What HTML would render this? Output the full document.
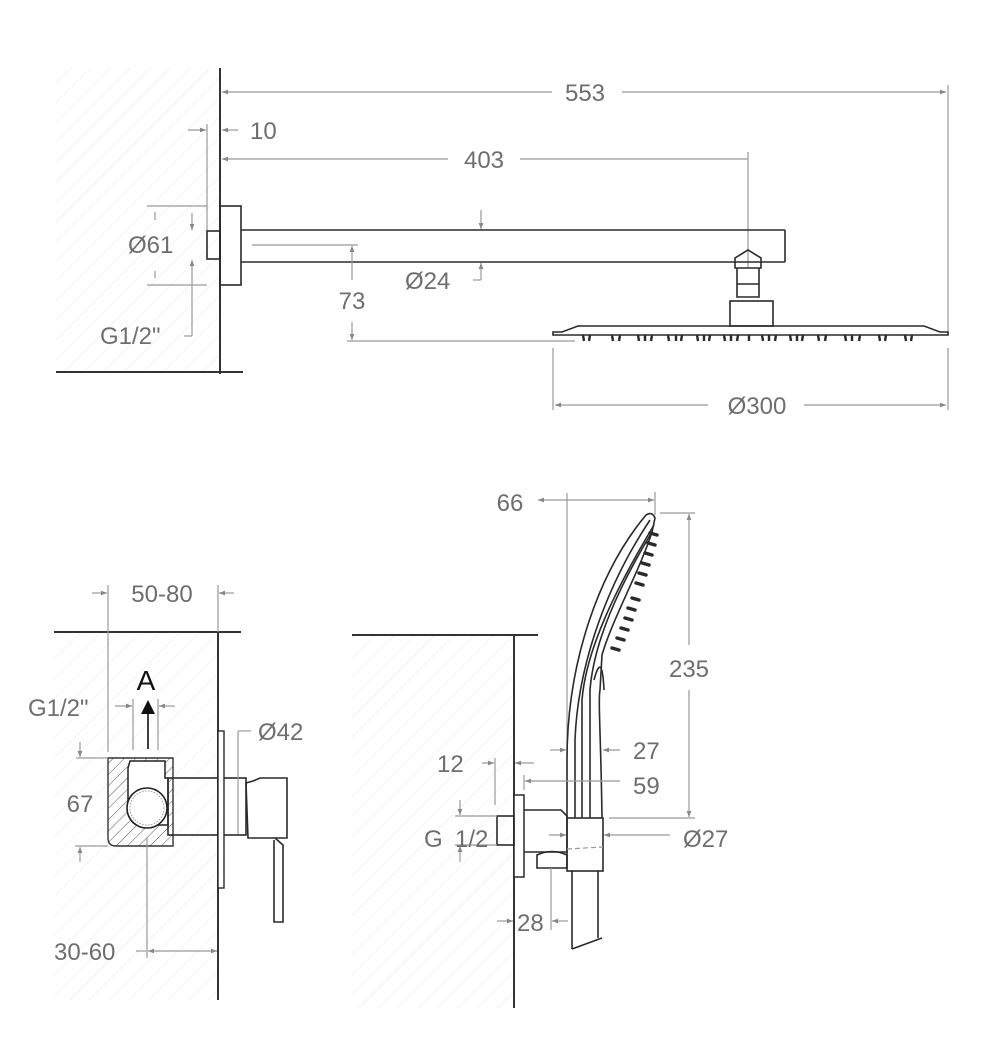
<!DOCTYPE html>
<html><head><meta charset="utf-8"><style>
html,body{margin:0;padding:0;background:#fff;}
svg{display:block;}
text{font-family:"Liberation Sans",sans-serif;font-size:24px;fill:#6e6e6e;}
.d{stroke:#999;stroke-width:1.2;fill:none;}
.o{stroke:#2a2a2a;stroke-width:1.6;fill:none;}
.w{stroke:#333;stroke-width:2;fill:none;}
.hf{fill:url(#hatch);}
</style></head><body>
<svg width="1000" height="1048" viewBox="0 0 1000 1048" xmlns="http://www.w3.org/2000/svg">
<defs>
<pattern id="hatch" width="14" height="14" patternUnits="userSpaceOnUse" patternTransform="rotate(45)">
<line x1="0" y1="0" x2="0" y2="14" stroke="#ececec" stroke-width="1.2"/></pattern>
<pattern id="hatch2" width="8" height="8" patternUnits="userSpaceOnUse" patternTransform="rotate(45)">
<line x1="0" y1="0" x2="0" y2="8" stroke="#555" stroke-width="1"/></pattern>
<marker id="a" viewBox="0 0 10 10" refX="10" refY="5" markerWidth="7" markerHeight="5" orient="auto-start-reverse"><path d="M0,1 L10,5 L0,9 z" fill="#888"/></marker>
</defs>

<!-- ========== TOP ========== -->
<rect x="56" y="68" width="164" height="304" class="hf"/>
<line class="w" x1="220" y1="68" x2="220" y2="374"/>
<line class="w" x1="56" y1="372" x2="243" y2="372"/>

<line class="d" x1="222" y1="92" x2="552" y2="92" marker-start="url(#a)"/>
<line class="d" x1="622" y1="92" x2="946" y2="92" marker-end="url(#a)"/>
<line class="d" x1="948" y1="85" x2="948" y2="333"/>
<text x="585" y="101" text-anchor="middle">553</text>
<line class="d" x1="188" y1="130" x2="206" y2="130" marker-end="url(#a)"/>
<line class="d" x1="238" y1="130" x2="222" y2="130" marker-end="url(#a)"/>
<line class="d" x1="207" y1="124" x2="207" y2="230"/>
<text x="250" y="139">10</text>
<line class="d" x1="222" y1="159" x2="448" y2="159" marker-start="url(#a)"/>
<line class="d" x1="520" y1="159" x2="748" y2="159"/>
<line class="d" x1="748" y1="152" x2="748" y2="268"/>
<text x="484" y="168" text-anchor="middle">403</text>
<rect class="o" x="220" y="206" width="21" height="79"/>
<rect class="o" x="207" y="231" width="13" height="28"/>
<line class="o" x1="241" y1="230" x2="785" y2="230"/>
<line class="o" x1="241" y1="262" x2="785" y2="262"/>
<line class="o" x1="785" y1="230" x2="785" y2="262"/>
<line class="d" x1="147" y1="206" x2="207" y2="206"/>
<line class="d" x1="147" y1="285" x2="207" y2="285"/>
<line class="d" x1="155" y1="212" x2="155" y2="220"/>
<line class="d" x1="155" y1="271" x2="155" y2="278"/>
<text x="128" y="253">Ø61</text>
<line class="d" x1="192" y1="213" x2="192" y2="230" marker-end="url(#a)"/>
<line class="d" x1="192" y1="336" x2="192" y2="260" marker-end="url(#a)"/>
<line class="d" x1="184" y1="336" x2="192" y2="336"/>
<text x="100" y="344">G1/2"</text>
<line class="d" x1="481" y1="210" x2="481" y2="229" marker-end="url(#a)"/>
<line class="d" x1="481" y1="280" x2="481" y2="263" marker-end="url(#a)"/>
<line class="d" x1="473" y1="280" x2="481" y2="280"/>
<text x="405" y="289">Ø24</text>
<line class="d" x1="252" y1="245" x2="358" y2="245"/>
<line class="d" x1="352" y1="280" x2="352" y2="246" marker-end="url(#a)"/>
<line class="d" x1="352" y1="322" x2="352" y2="340" marker-end="url(#a)"/>
<line class="d" x1="347" y1="341" x2="575" y2="341"/>
<text x="352" y="309" text-anchor="middle">73</text>
<path class="o" d="M735,258 L748,250 L761,258 L761,268 L735,268 Z"/>
<path class="o" d="M737,268 L737,297 L759,297 L759,268"/>
<line class="o" x1="737" y1="284" x2="759" y2="284"/>
<rect class="o" x="730" y="301" width="43" height="25"/>
<path class="o" d="M578,326 L924,326 L940,332 L948,332 L948,335 L553,335 L553,332 L562,332 Z"/>
<g stroke="#2a2a2a" stroke-width="2.4">
<path d="M583,335l1,6M590,335l-1,6M612,335l1,6M620,335l-1,6M638,335l1,6M645,335v6M652,335l-1,6M668,335l1,6M676,335v6M682,335l-1,6M697,335l1,6M704,335v6M710,335l-1,6M724,335l1,6M731,335v6M738,335l-1,6M749,335v6M762,335l1,6M769,335v6M776,335l-1,6M790,335l1,6M797,335v6M803,335l-1,6M818,335l1,6M826,335l-1,6M845,335l1,6M852,335v6M860,335l-1,6M879,335l1,6M886,335l-1,6M905,335l1,6M912,335l-1,6"/>
</g>
<line class="d" x1="553" y1="348" x2="553" y2="410"/>
<line class="d" x1="555" y1="405" x2="708" y2="405" marker-start="url(#a)"/>
<line class="d" x1="804" y1="405" x2="946" y2="405" marker-end="url(#a)"/>
<line class="d" x1="948" y1="348" x2="948" y2="410"/>
<text x="757" y="414" text-anchor="middle">Ø300</text>

<!-- ========== BOTTOM LEFT ========== -->
<rect x="54" y="632" width="164" height="368" class="hf"/>
<line class="w" x1="54" y1="632" x2="241" y2="632"/>
<line class="w" x1="218" y1="632" x2="218" y2="1000"/>
<line class="d" x1="92" y1="593" x2="107" y2="593" marker-end="url(#a)"/>
<line class="d" x1="234" y1="593" x2="219" y2="593" marker-end="url(#a)"/>
<line class="d" x1="108" y1="585" x2="108" y2="752"/>
<line class="d" x1="218" y1="585" x2="218" y2="632"/>
<text x="162" y="602" text-anchor="middle">50-80</text>
<text x="146" y="690" text-anchor="middle" style="font-size:28px;fill:#111">A</text>
<path d="M141,714 L148,700 L155,714 Z" fill="#111"/>
<line x1="148" y1="712" x2="148" y2="749" stroke="#111" stroke-width="1.6"/>
<line class="d" x1="115" y1="706" x2="132" y2="706" marker-end="url(#a)"/>
<line class="d" x1="175" y1="706" x2="159" y2="706" marker-end="url(#a)"/>
<line class="d" x1="133" y1="699" x2="133" y2="750"/>
<line class="d" x1="158" y1="699" x2="158" y2="750"/>
<text x="28" y="716">G1/2"</text>
<path d="M108,758 L173,758 L173,846 L116,846 Q108,846 108,838 Z" fill="url(#hatch2)" stroke="#333" stroke-width="1.4"/>
<path d="M130,761 L165,761 L165,778 L168,778 L168,825 L137,825 Q128,822 128,805 L128,768 Z" fill="#fff" stroke="#222" stroke-width="1.5"/>
<circle cx="147" cy="808" r="20" fill="#fff" stroke="#222" stroke-width="1.6"/>
<circle cx="147" cy="808" r="17" fill="none" stroke="#999" stroke-dasharray="1.5,1.5"/>
<line class="d" x1="76" y1="758" x2="108" y2="758"/>
<line class="d" x1="75" y1="846" x2="108" y2="846"/>
<line class="d" x1="80" y1="742" x2="80" y2="757" marker-end="url(#a)"/>
<line class="d" x1="80" y1="862" x2="80" y2="847" marker-end="url(#a)"/>
<text x="80" y="812" text-anchor="middle">67</text>
<rect class="o" x="168" y="778" width="78" height="57" fill="#fff"/>
<rect x="218" y="731" width="6" height="157" fill="#fff" stroke="#2a2a2a" stroke-width="1.4"/>
<path class="o" d="M246,783 L253,781 L260,778 L287,778 L287,838 L248,838 Z" fill="#fff"/>
<path class="o" d="M275,838 L283,845 L283,922 L274,922 L274,840"/>
<line class="d" x1="238" y1="731" x2="251" y2="731"/>
<line class="d" x1="238" y1="731" x2="238" y2="834"/>
<text x="258" y="740">Ø42</text>
<line class="d" x1="147" y1="838" x2="147" y2="958"/>
<line class="d" x1="136" y1="951" x2="146" y2="951"/>
<line class="d" x1="148" y1="951" x2="217" y2="951" marker-start="url(#a)" marker-end="url(#a)"/>
<text x="54" y="960">30-60</text>

<!-- ========== BOTTOM RIGHT ========== -->
<rect x="352" y="635" width="162" height="373" class="hf"/>
<line class="w" x1="352" y1="635" x2="538" y2="635"/>
<line class="w" x1="514" y1="635" x2="514" y2="1008"/>
<text x="510" y="511" text-anchor="middle">66</text>
<line class="d" x1="538" y1="500" x2="654" y2="500" marker-start="url(#a)" marker-end="url(#a)"/>
<line class="d" x1="567" y1="493" x2="567" y2="808"/>
<line class="d" x1="655" y1="492" x2="655" y2="515"/>
<path class="o" d="M567,818 L567,760 C567,660 600,570 646,515 Q652,511 655,518 L652,532 C640,570 612,620 602,655 L600,690 C598,700 601,740 602,818"/>
<path class="o" d="M575,818 L575,740 C578,660 610,580 650,520"/>
<path class="o" d="M582,818 L582,700 C586,650 615,590 654,525"/>
<path class="o" d="M590,818 L590,690 C594,640 620,585 652,532"/>
<path class="o" d="M594,680 Q602,650 604,690"/>
<g stroke="#2a2a2a" stroke-width="3.5" stroke-linecap="round">
<path d="M650,533 l7,2 M648,543 l7,2 M645,553 l7,2 M642,563 l7,2 M639,573 l7,2 M636,583 l7,2 M632,598 l7,2 M628,608 l7,2 M625,618 l7,2 M621,628 l7,2 M617,638 l7,2 M612,648 l7,2"/>
</g>
<line class="d" x1="660" y1="513" x2="695" y2="513"/>
<line class="d" x1="609" y1="818" x2="695" y2="818"/>
<line class="d" x1="689" y1="645" x2="689" y2="514" marker-end="url(#a)"/>
<line class="d" x1="689" y1="690" x2="689" y2="817" marker-end="url(#a)"/>
<text x="689" y="677" text-anchor="middle">235</text>
<line class="d" x1="550" y1="750" x2="566" y2="750" marker-end="url(#a)"/>
<line class="d" x1="620" y1="750" x2="603" y2="750" marker-end="url(#a)"/>
<text x="633" y="759">27</text>
<line class="d" x1="482" y1="763" x2="494" y2="763" marker-end="url(#a)"/>
<line class="d" x1="534" y1="763" x2="515" y2="763" marker-end="url(#a)"/>
<line class="d" x1="495" y1="758" x2="495" y2="805"/>
<text x="437" y="772">12</text>
<line class="d" x1="524" y1="775" x2="524" y2="790"/>
<line class="d" x1="525" y1="781" x2="620" y2="781" marker-start="url(#a)"/>
<text x="633" y="794">59</text>
<line class="d" x1="549" y1="835" x2="566" y2="835" marker-end="url(#a)"/>
<line class="d" x1="670" y1="835" x2="604" y2="835" marker-end="url(#a)"/>
<text x="683" y="847">Ø27</text>
<rect x="514" y="795" width="10" height="82" fill="#fff" stroke="#2a2a2a" stroke-width="1.5"/>
<rect class="o" x="497" y="816" width="17" height="29"/>
<path class="o" d="M524,810 L561,810 L567,816 L567,852 L524,852"/>
<path class="o" d="M537,868 L537,855 Q552,848 567,855 L567,868 Z"/>
<rect class="o" x="567" y="818" width="36" height="53" fill="#fff"/>
<path class="d" d="M567,849 L603,847" stroke-dasharray="5,3"/>
<path class="o" d="M572,871 L572,949 M598,871 L598,938 M572,949 L602,938"/>
<line class="d" x1="455" y1="816" x2="497" y2="816"/>
<line class="d" x1="455" y1="845" x2="497" y2="845"/>
<line class="d" x1="460" y1="800" x2="460" y2="815" marker-end="url(#a)"/>
<line class="d" x1="460" y1="862" x2="460" y2="846" marker-end="url(#a)"/>
<text x="424" y="847">G</text><text x="455" y="847">1/2</text>
<line class="d" x1="551" y1="868" x2="551" y2="930"/>
<line class="d" x1="497" y1="921" x2="513" y2="921" marker-end="url(#a)"/>
<line class="d" x1="568" y1="921" x2="552" y2="921" marker-end="url(#a)"/>
<text x="517" y="931">28</text>
</svg>
</body></html>
